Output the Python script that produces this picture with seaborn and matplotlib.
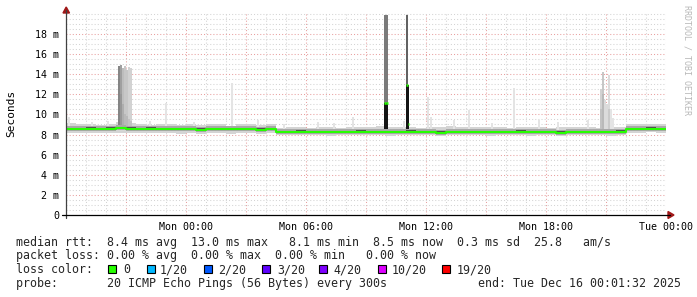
import numpy as np
import pandas as pd
import matplotlib
matplotlib.use("Agg")
import matplotlib.pyplot as plt
import seaborn as sns
from matplotlib.lines import Line2D
from matplotlib.patches import Polygon, Rectangle

W, H = 697, 297

# ---------------- data ----------------
x_tick_hours = [3, 6, 9, 12, 15, 18, 21, 24, 27, 30]
x_tick_labels = ["", "Mon 00:00", "", "Mon 06:00", "", "Mon 12:00", "", "Mon 18:00", "", "Tue 00:00"]
y_tick_values = [0, 2, 4, 6, 8, 10, 12, 14, 16, 18]
y_tick_labels = ["0", "2 m", "4 m", "6 m", "8 m", "10 m", "12 m", "14 m", "16 m", "18 m"]

# 30-minute segments starting Sun 18:00 (hour 0) to Tue 00:00 (hour 30)
seg_start_h = np.arange(0, 30, 0.5)
median_ms = [8.55, 8.55, 8.60, 8.55, 8.60, 8.65, 8.60, 8.55, 8.60, 8.55,
             8.55, 8.55, 8.55, 8.50, 8.55, 8.55, 8.55, 8.55, 8.55, 8.50,
             8.55, 8.25, 8.25, 8.30, 8.25, 8.25, 8.25, 8.25, 8.25, 8.30,
             8.25, 8.25, 8.25, 8.25, 8.30, 8.25, 8.25, 8.20, 8.25, 8.25,
             8.25, 8.25, 8.25, 8.25, 8.25, 8.30, 8.25, 8.25, 8.25, 8.20,
             8.25, 8.25, 8.25, 8.25, 8.25, 8.30, 8.55, 8.55, 8.60, 8.55]
smoke_hi_ms = [9.10, 9.00, 9.00, 8.95, 9.05, 9.20, 9.10, 9.00, 8.95, 9.00,
               9.05, 8.95, 9.00, 8.95, 9.00, 9.00, 8.90, 9.00, 9.00, 8.95,
               9.00, 8.70, 8.75, 8.80, 8.70, 8.75, 8.80, 8.70, 8.75, 8.80,
               8.75, 8.90, 8.80, 8.75, 8.80, 8.70, 8.75, 8.80, 8.90, 8.80,
               8.75, 8.80, 8.75, 8.80, 8.70, 8.75, 8.80, 8.75, 8.70, 8.80,
               8.75, 8.80, 8.75, 8.70, 8.75, 8.80, 9.00, 9.00, 9.05, 9.00]
smoke_lo_ms = [8.15, 8.20, 8.15, 8.20, 8.15, 8.20, 8.15, 8.15, 8.20, 8.15,
               8.15, 8.10, 8.15, 8.10, 8.15, 8.15, 8.10, 8.15, 8.15, 8.10,
               8.15, 7.95, 7.95, 8.00, 7.95, 7.95, 7.90, 7.95, 7.95, 8.00,
               7.95, 7.95, 7.90, 7.95, 8.00, 7.95, 7.95, 7.90, 7.95, 8.00,
               7.95, 7.95, 7.90, 7.95, 7.95, 8.00, 7.90, 7.95, 7.95, 7.90,
               7.95, 8.00, 7.95, 7.95, 7.90, 8.00, 8.20, 8.20, 8.25, 8.20]

# individual 5-minute samples with outliers
spike_h = [0.15, 2.65, 2.75, 2.85, 2.95, 3.05, 3.15, 3.25, 5.0, 8.3,
           9.6, 12.6, 14.35, 15.96, 16.04, 17.05, 17.13, 18.1, 18.25, 20.15,
           22.4, 23.65, 26.1, 26.75, 26.85, 26.95, 27.05, 27.15, 27.25, 27.35,
           1.3, 2.1, 4.2, 6.4, 10.9, 13.4, 16.9, 19.4, 21.3, 24.6]
spike_top_ms = [9.7, 14.8, 14.9, 14.6, 14.8, 14.4, 14.7, 14.6, 11.1, 13.1,
                9.4, 9.2, 9.7, 19.9, 19.9, 19.9, 12.9, 11.7, 9.7, 10.4,
                12.6, 9.4, 9.4, 12.5, 14.2, 11.4, 11.0, 13.9, 10.5, 9.6,
                9.2, 9.3, 9.3, 9.2, 9.0, 9.1, 9.3, 9.4, 9.1, 9.2]
spike_pings = [1, 9, 7, 5, 4, 4, 3, 3, 1, 1,
               1, 1, 1, 10, 10, 12, 16, 1, 1, 1,
               1, 1, 1, 3, 4, 2, 2, 2, 1, 1,
               1, 1, 1, 1, 1, 1, 1, 1, 1, 1]
spike_core_ms = [np.nan, 13.5, 12.0, 11.0, 10.0, 9.8, 9.5, 9.3, np.nan, np.nan,
                 np.nan, np.nan, np.nan, 11.1, 11.1, 12.9, 12.9, np.nan, np.nan, np.nan,
                 np.nan, np.nan, np.nan, 10.5, 12.0, np.nan, np.nan, 10.5, np.nan, np.nan,
                 np.nan, np.nan, np.nan, np.nan, np.nan, np.nan, np.nan, np.nan, np.nan, np.nan]
spike_median_ms = [np.nan] * 13 + [11.1, 11.1, 12.9, 9.0] + [np.nan] * 23

loss_labels = ["0", "1/20", "2/20", "3/20", "4/20", "10/20", "19/20"]
loss_colors = ["#26ff00", "#00b8ff", "#0059ff", "#5e00ff", "#7e00ff", "#dd00ff", "#ff0000"]

stat_rows = [
    "median rtt:  8.4 ms avg  13.0 ms max   8.1 ms min  8.5 ms now  0.3 ms sd  25.8   am/s",
    "packet loss: 0.00 % avg  0.00 % max  0.00 % min   0.00 % now",
]
probe_text = "probe:       20 ICMP Echo Pings (56 Bytes) every 300s"
end_text = "end: Tue Dec 16 00:01:32 2025"

# ---------------- figure ----------------
sns.set_style("white")
plt.rcParams["font.family"] = ["DejaVu Sans Mono"]
MONO = "DejaVu Sans Mono"

fig = plt.figure(figsize=(W / 100, H / 100), dpi=100)
fig.patch.set_facecolor("white")


def fx(x):
    return x / W


def fy(y):
    return 1 - y / H


ax_left, ax_right, ax_top, ax_bot = 66, 666, 13, 215
ax = fig.add_axes([fx(ax_left), fy(ax_bot), (ax_right - ax_left) / W, (ax_bot - ax_top) / H])
ax.set_facecolor("white")
ax.set_xlim(0, 30)
ax.set_ylim(0, (ax_bot - ax_top) / 10.056)

# grid
ax.set_xticks(x_tick_hours)
ax.set_xticklabels(x_tick_labels)
ax.set_xticks(np.arange(0, 31, 1), minor=True)
ax.set_yticks(y_tick_values)
ax.set_yticklabels(y_tick_labels)
ax.set_yticks(np.arange(0, 20.1, 0.5), minor=True)
ax.grid(which="minor", color="#d4d4d4", linestyle=(0, (1, 2)), linewidth=0.75)
ax.grid(which="major", color="#e8a0a0", linestyle=(0, (1, 2)), linewidth=0.75)
ax.set_axisbelow(True)
ax.tick_params(which="both", length=0)
ax.tick_params(axis="y", pad=5, labelsize=7.2, labelcolor="black")
ax.tick_params(axis="x", pad=5, labelsize=7.2, labelcolor="black")
for lab in ax.get_xticklabels() + ax.get_yticklabels():
    lab.set_fontfamily(MONO)
for s in ax.spines.values():
    s.set_visible(False)

# step data
edges = list(seg_start_h) + [30.0]
df = pd.DataFrame({
    "hour": edges,
    "median": median_ms + [median_ms[-1]],
    "hi": smoke_hi_ms + [smoke_hi_ms[-1]],
    "lo": smoke_lo_ms + [smoke_lo_ms[-1]],
})

# light smoke
ax.fill_between(df["hour"], df["lo"], df["hi"], step="post", color="#d4d4d4", linewidth=0, zorder=2)

# spikes
w = 1 / 12
base = [median_ms[min(int(h / 0.5), 59)] for h in spike_h]
greys = plt.get_cmap("Greys")
outer_cols = [greys(min(0.85, 0.15 + 0.045 * p)) for p in spike_pings]
ax.bar(spike_h, np.array(spike_top_ms) - np.array(base), bottom=base, width=w,
       color=outer_cols, linewidth=0, zorder=2.5)
core = np.array(spike_core_ms)
mask = ~np.isnan(core)
core_cols = [greys(0.25 + 0.035 * p) if p < 10 else greys(0.93)
             for p in np.array(spike_pings)[mask]]
ax.bar(np.array(spike_h)[mask], core[mask] - np.array(base)[mask], bottom=np.array(base)[mask],
       width=w, color=core_cols, linewidth=0, zorder=2.6)

# inner smoke bands
ax.fill_between(df["hour"], df["median"] - 0.22, df["median"] + 0.27, step="post",
                color="#a8a8a8", linewidth=0, zorder=3)
ax.fill_between(df["hour"], df["median"] - 0.11, df["median"] + 0.11, step="post",
                color="#505050", linewidth=0, zorder=3.1)

# median line
sns.lineplot(data=df, x="hour", y="median", drawstyle="steps-post", color="#26ff00",
             linewidth=1.5, ax=ax, zorder=4)
med = np.array(spike_median_ms)
mm = ~np.isnan(med)
ax.hlines(med[mm], np.array(spike_h)[mm] - w / 2, np.array(spike_h)[mm] + w / 2,
          color="#26ff00", linewidth=1.8, zorder=4.5)
ax.set_xlabel("")
ax.set_ylabel("")

# axes lines with arrows (figure pixel coords)
tf = fig.transFigure
fig.add_artist(Line2D([fx(ax_left), fx(ax_left)], [fy(218), fy(10)], color="#404040", lw=0.9, transform=tf))
fig.add_artist(Line2D([fx(62), fx(670)], [fy(ax_bot), fy(ax_bot)], color="black", lw=0.9, transform=tf))
arrow_col = "#a01818"
fig.add_artist(Polygon([[fx(63), fy(13)], [fx(69.5), fy(13)], [fx(66.2), fy(7)]], closed=True,
                       color=arrow_col, transform=tf))
fig.add_artist(Polygon([[fx(668), fy(211.5)], [fx(668), fy(218.5)], [fx(674), fy(215)]], closed=True,
                       color=arrow_col, transform=tf))

# labels
fig.text(fx(11), fy(113), "Seconds", rotation=90, ha="center", va="center",
         fontsize=8, family=MONO, color="black")
fig.text(fx(687), fy(5), "RRDTOOL / TOBI OETIKER", rotation=270, ha="center", va="top",
         fontsize=6, family=MONO, color="#b8b8b8")

# legend / stats
LFS = 8.4
fig.text(fx(16), fy(245.7), stat_rows[0], fontsize=LFS, family=MONO, va="baseline", ha="left")
fig.text(fx(16), fy(259.3), stat_rows[1], fontsize=LFS, family=MONO, va="baseline", ha="left")
fig.text(fx(16), fy(273.3), "loss color:", fontsize=LFS, family=MONO, va="baseline", ha="left")
box_x = [108, 147, 204, 262, 319, 378, 442]
lab_x = [123, 160, 218, 277, 333, 392, 457]
for bx, lx, lab, col in zip(box_x, lab_x, loss_labels, loss_colors):
    fig.add_artist(Rectangle((fx(bx), fy(273)), 8 / W, 8 / H, facecolor=col,
                             edgecolor="black", linewidth=0.8, transform=tf))
    fig.text(fx(lx), fy(273.3), lab, fontsize=LFS, family=MONO, va="baseline", ha="left")
fig.text(fx(16), fy(286.9), probe_text, fontsize=LFS, family=MONO, va="baseline", ha="left")
fig.text(fx(478), fy(286.9), end_text, fontsize=LFS, family=MONO, va="baseline", ha="left")

fig.savefig("out.png", dpi=100, facecolor="white")
